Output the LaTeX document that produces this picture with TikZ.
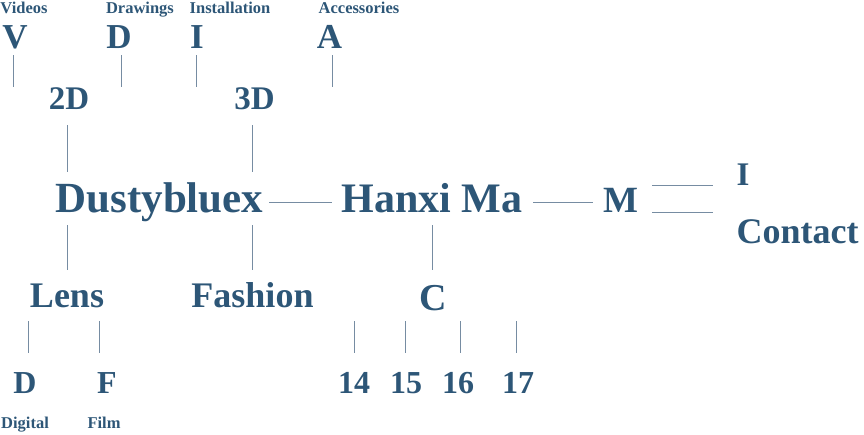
\documentclass[tikz,border=0pt]{standalone}
\usepackage{fontspec}
\setmainfont{Liberation Serif}
\definecolor{dblue}{RGB}{45,86,119}
\definecolor{lineblue}{RGB}{118,140,162}
\tikzset{
  txt/.style={inner sep=0pt, outer sep=0pt, anchor=base, text=dblue},
  fs/.style={txt, font=\fontsize{#1}{#1}\selectfont\bfseries},
  conn/.style={draw=lineblue, line width=1pt},
}
\begin{document}
\begin{tikzpicture}[x=1pt,y=-1pt]
\useasboundingbox (0,0) rectangle (864,434);
% top labels
\node[fs=16.5] (videos) at (24,13) {Videos};
\node[fs=16.5] (drawings) at (140,13) {Drawings};
\node[fs=16.5] (install) at (230,13) {Installation};
\node[fs=16.5] (access) at (359,13) {Accessories};
% top letters
\node[fs=35] (V) at (15,48) {V};
\node[fs=35] (Dtop) at (119,48) {D};
\node[fs=35] (Itop) at (197,48) {I};
\node[fs=35] (A) at (329.5,48) {A};
% 2D 3D
\node[fs=33] (twoD) at (69,109) {2D};
\node[fs=33] (threeD) at (254.5,109) {3D};
% main row
\node[fs=43] (dusty) at (159.5,212) {Dustybluex};
\node[fs=42] (hanxi) at (432,212) {Hanxi Ma};
\node[fs=37] (M) at (621,212) {M};
\node[fs=33] (Iright) at (743,185) {I};
\node[fs=36] (contact) at (797.5,243) {Contact};
% second row
\node[fs=36] (lens) at (67,307) {Lens};
\node[fs=36] (fashion) at (252.5,307) {Fashion};
\node[fs=38] (C) at (433.5,310) {C};
% bottom
\node[fs=32] (Dbot) at (25,393) {D};
\node[fs=32] (F) at (107,393) {F};
\node[fs=32] (n14) at (354,393) {14};
\node[fs=32] (n15) at (406,393) {15};
\node[fs=32] (n16) at (458,393) {16};
\node[fs=32] (n17) at (518,393) {17};
\node[fs=16.5] (digital) at (25,428) {Digital};
\node[fs=16.5] (film) at (104,428) {Film};
% dangling lines under top letters
\draw[conn] ([shift={(-2,7)}]V.base) -- ++(0,32);
\draw[conn] ([shift={(2,7)}]Dtop.base) -- ++(0,32);
\draw[conn] ([shift={(-1,7)}]Itop.base) -- ++(0,32);
\draw[conn] ([shift={(2.5,7)}]A.base) -- ++(0,32);
% 2D/3D to Dustybluex
\draw[conn] ([shift={(-2,16)}]twoD.base) -- ([shift={(-92.5,-40)}]dusty.base);
\draw[conn] ([shift={(-2.5,16)}]threeD.base) -- ([shift={(92.5,-40)}]dusty.base);
% Dustybluex to Lens/Fashion
\draw[conn] ([shift={(-92.5,13)}]dusty.base) -- ([shift={(0,-37)}]lens.base);
\draw[conn] ([shift={(92.5,13)}]dusty.base) -- ([shift={(-0.5,-37)}]fashion.base);
% horizontal connectors
\draw[conn] ([shift={(109.5,-10)}]dusty.base) -- ([shift={(-100,-10)}]hanxi.base);
\draw[conn] ([shift={(101,-10)}]hanxi.base) -- ([shift={(-28,-10)}]M.base);
\draw[conn] ([shift={(31,-27)}]M.base) -- ([shift={(-30,0)}]Iright.base);
\draw[conn] ([shift={(31,0)}]M.base) -- ([shift={(-84.5,-31)}]contact.base);
% Hanxi to C
\draw[conn] ([shift={(0,13)}]hanxi.base) -- ([shift={(-1.5,-40)}]C.base);
% Lens to D/F
\draw[conn] ([shift={(-38.5,14)}]lens.base) -- ([shift={(3.5,-40)}]Dbot.base);
\draw[conn] ([shift={(32,14)}]lens.base) -- ([shift={(-8,-40)}]F.base);
% C to years
\draw[conn] ([shift={(-79.5,11)}]C.base) -- ([shift={(0,-40)}]n14.base);
\draw[conn] ([shift={(-28.5,11)}]C.base) -- ([shift={(-1,-40)}]n15.base);
\draw[conn] ([shift={(26.5,11)}]C.base) -- ([shift={(2,-40)}]n16.base);
\draw[conn] ([shift={(82.5,11)}]C.base) -- ([shift={(-2,-40)}]n17.base);
\end{tikzpicture}
\end{document}
